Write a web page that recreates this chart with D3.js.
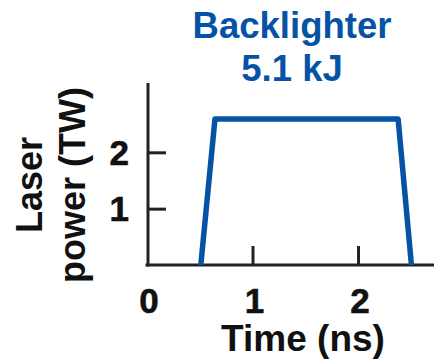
<!DOCTYPE html>
<html>
<head>
<meta charset="utf-8">
<script src="https://cdn.jsdelivr.net/npm/d3@7"></script>
<style>
  html, body { margin: 0; padding: 0; background: #fff; }
  svg { display: block; }
  text { font-family: "Liberation Sans", Arial, Helvetica, sans-serif; font-weight: bold; }
</style>
</head>
<body>
<svg id="chart" width="434" height="361"></svg>
<script>
// Data
const timeNs = [0.51, 0.644, 2.38, 2.506];
const powerTW = [0, 2.59, 2.59, 0];
const xTicks = [0, 1, 2];
const yTicks = [1, 2];
const titleLines = ["Backlighter", "5.1 kJ"];
const xLabel = "Time (ns)";
const yLabelLines = ["Laser", "power (TW)"];

const svg = d3.select("#chart");
const W = 434, H = 361;
const x = d3.scaleLinear().domain([0, 2.72]).range([147, 434]);
const y = d3.scaleLinear().domain([0, 3.23]).range([265, 83]);

const axisColor = "#222";
const blue = "#0653a5";

// Axes
const xAxis = d3.axisBottom(x).tickValues(xTicks.filter(d => d > 0)).tickSize(-19).tickFormat("").tickSizeOuter(0);
const gx = svg.append("g").attr("transform", `translate(0,${y(0)})`).call(xAxis);
gx.select(".domain").attr("stroke", axisColor).attr("stroke-width", 3).attr("d", `M${x(0)-1.5},0H${W}`);
gx.selectAll(".tick line").attr("stroke", axisColor).attr("stroke-width", 3);

const yAxis = d3.axisLeft(y).tickValues(yTicks).tickSize(-18).tickFormat("").tickSizeOuter(0);
const gy = svg.append("g").attr("transform", `translate(${x(0)+1},0)`).call(yAxis);
gy.select(".domain").attr("stroke", axisColor).attr("stroke-width", 3).attr("d", `M0,${y.range()[1]}V${y(0)+1.5}`);
gy.selectAll(".tick line").attr("stroke", axisColor).attr("stroke-width", 3);

// Tick labels
svg.append("g").selectAll("text").data(xTicks).join("text")
  .attr("x", d => x(d) + 2).attr("y", 313)
  .attr("text-anchor", "middle").attr("font-size", 35).attr("fill", "#111")
  .attr("stroke", "#111").attr("stroke-width", 0.6)
  .text(d => d);
svg.append("g").selectAll("text").data(yTicks).join("text")
  .attr("x", 129).attr("y", d => y(d) + 12.5)
  .attr("text-anchor", "end").attr("font-size", 35).attr("fill", "#111")
  .attr("stroke", "#111").attr("stroke-width", 0.6)
  .text(d => d);

// Axis titles
svg.append("text").attr("x", 303).attr("y", 351).attr("text-anchor", "middle")
  .attr("font-size", 37).attr("fill", "#111").text(xLabel);
const ylx = [42, 85];
yLabelLines.forEach((t, i) => {
  svg.append("text").attr("transform", `translate(${ylx[i]},185) rotate(-90)`)
    .attr("text-anchor", "middle").attr("font-size", 36).attr("fill", "#111").text(t);
});

// Title
const tY = [38, 81];
titleLines.forEach((t, i) => {
  svg.append("text").attr("x", 292).attr("y", tY[i]).attr("text-anchor", "middle")
    .attr("font-size", 36.5).attr("fill", blue).text(t);
});

// Pulse
const line = d3.line().x((d, i) => x(timeNs[i])).y(d => y(d));
svg.append("path").datum(powerTW).attr("d", line)
  .attr("fill", "none").attr("stroke", blue).attr("stroke-width", 5.5)
  .attr("stroke-linejoin", "round");
</script>
</body>
</html>
